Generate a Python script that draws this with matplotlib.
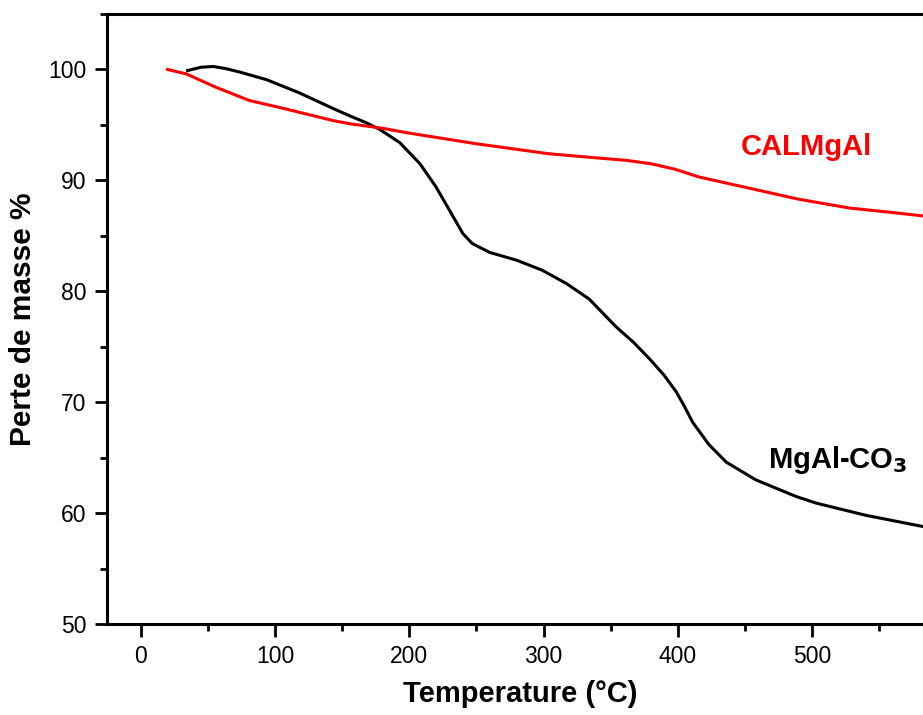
import matplotlib.pyplot as plt
from matplotlib.ticker import MultipleLocator

plt.rcParams['font.family'] = ['Liberation Sans', 'DejaVu Sans']

# MgAl-CO3 curve
temp_mgal = [35, 45, 54, 64, 74, 94, 118, 143, 156, 168, 178, 193, 208, 220, 230, 240, 247,
             260, 280, 299, 317, 334, 354, 367, 379, 390, 399, 405, 411, 423, 436, 458, 488, 503,
             540, 582, 600]
mass_mgal = [99.9, 100.2, 100.27, 100.06, 99.76, 99.07, 97.9, 96.5, 95.8, 95.2, 94.6, 93.4,
             91.5, 89.4, 87.3, 85.2, 84.3, 83.5, 82.8, 81.9, 80.7, 79.3, 76.8, 75.4, 73.9, 72.4,
             70.9, 69.6, 68.2, 66.2, 64.6, 63.0, 61.5, 60.9, 59.8, 58.8, 58.5]

# CALMgAl curve
temp_cal = [20, 34, 56, 81, 106, 143, 156, 180, 198, 250, 304, 342, 362, 380, 398, 416, 453,
            490, 528, 560, 582, 600]
mass_cal = [100.0, 99.6, 98.4, 97.2, 96.5, 95.4, 95.1, 94.7, 94.3, 93.3, 92.4, 92.0, 91.8, 91.5,
            91.0, 90.3, 89.3, 88.3, 87.5, 87.1, 86.8, 86.6]

fig = plt.figure(figsize=(9.23, 7.15), dpi=100)
ax = fig.add_axes([107 / 923, 1 - 624 / 715, (933 - 107) / 923, (624 - 14) / 715])

ax.plot(temp_mgal, mass_mgal, color='black', lw=2.2)
ax.plot(temp_cal, mass_cal, color='#ff0000', lw=2.2)

ax.set_xlim(-25, 590)
ax.set_ylim(50, 105)
ax.xaxis.set_major_locator(MultipleLocator(100))
ax.xaxis.set_minor_locator(MultipleLocator(50))
ax.yaxis.set_major_locator(MultipleLocator(10))
ax.yaxis.set_minor_locator(MultipleLocator(5))
ax.tick_params(which='both', direction='out', width=2, labelsize=16.5, top=False, right=False)
ax.tick_params(which='major', length=9, pad=6)
ax.tick_params(which='minor', length=5)
for s in ax.spines.values():
    s.set_linewidth(2.2)

ax.set_xlabel('Temperature (°C)', fontsize=21, fontweight='bold', labelpad=9)
ax.set_ylabel('Perte de masse %', fontsize=21.5, fontweight='bold', labelpad=8)

ax.text(496, 93.0, 'CALMgAl', color='#ff0000', fontsize=21, fontweight='bold', ha='center', va='center')
ax.text(519, 64.8, r'MgAl-CO$_\mathbf{3}$', color='black', fontsize=21, fontweight='bold',
        ha='center', va='center')

fig.savefig('out.png', dpi=100)
